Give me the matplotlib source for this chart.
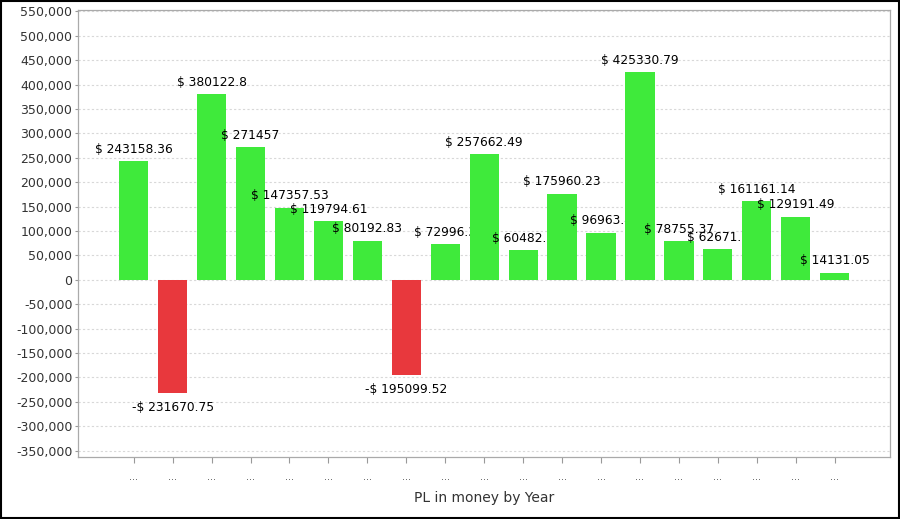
import matplotlib
matplotlib.use("Agg")
import matplotlib.pyplot as plt
from matplotlib.ticker import FuncFormatter, MultipleLocator

plt.rcParams['font.family'] = ['DejaVu Sans']

categories = ["..."] * 19
values = [243158.36, -231670.75, 380122.8, 271457, 147357.53, 119794.61,
          80192.83, -195099.52, 72996.3, 257662.49, 60482.8, 175960.23,
          96963.4, 425330.79, 78755.37, 62671.1, 161161.14, 129191.49,
          14131.05]
labels = ["$ 243158.36", "-$ 231670.75", "$ 380122.8", "$ 271457",
          "$ 147357.53", "$ 119794.61", "$ 80192.83", "-$ 195099.52",
          "$ 72996.3", "$ 257662.49", "$ 60482.8", "$ 175960.23",
          "$ 96963.4", "$ 425330.79", "$ 78755.37", "$ 62671.1",
          "$ 161161.14", "$ 129191.49", "$ 14131.05"]
x_title = "PL in money by Year"

GREEN = "#3FEA3B"
RED = "#E8383D"

fig = plt.figure(figsize=(9.0, 5.19), dpi=100)
ax = fig.add_axes([78/900, (519-457)/519, 812/900, (457-10)/519])

xs = list(range(len(values)))
for i, (x, v, lab) in enumerate(zip(xs, values, labels)):
    col = GREEN if v >= 0 else RED
    ax.bar(x, v, width=0.75, color=col, edgecolor="none", zorder=3 + 2*i)
    if v >= 0:
        ax.annotate(lab, (x, v), xytext=(0, 4), textcoords="offset points",
                    ha="center", va="bottom", fontsize=8.8, color="black",
                    zorder=4 + 2*i)
    else:
        ax.annotate(lab, (x, v), xytext=(0, -6), textcoords="offset points",
                    ha="center", va="top", fontsize=8.8, color="black",
                    zorder=4 + 2*i)

ax.set_xlim(-1.43, len(values) - 1 + 1.42)
ax.set_ylim(-363000, 553000)
ax.yaxis.set_major_locator(MultipleLocator(50000))
ax.yaxis.set_major_formatter(FuncFormatter(lambda v, p: f"{int(round(v)):,}"))
ax.set_xticks(xs)
ax.set_xticklabels(categories, fontsize=7, color="#555555")
ax.tick_params(axis="x", length=4, width=0.8, color="#999999", pad=7)
ax.tick_params(axis="y", length=2, width=0.8, color="#999999", labelsize=9,
               labelcolor="#333333", pad=2)
ax.grid(axis="y", color="#D8D8D8", linestyle=(0, (2, 2)), linewidth=0.8, zorder=0)
ax.set_axisbelow(True)
for s in ax.spines.values():
    s.set_color("#AAAAAA")
    s.set_linewidth(0.9)

ax.set_xlabel(x_title, fontsize=10, color="#333333", labelpad=6)

# outer black border
fig.patches.append(plt.Rectangle((0.001, 0.001), 0.998, 0.997, transform=fig.transFigure,
                                 fill=False, edgecolor="black", linewidth=1.5))

fig.savefig("out.png", dpi=100)
